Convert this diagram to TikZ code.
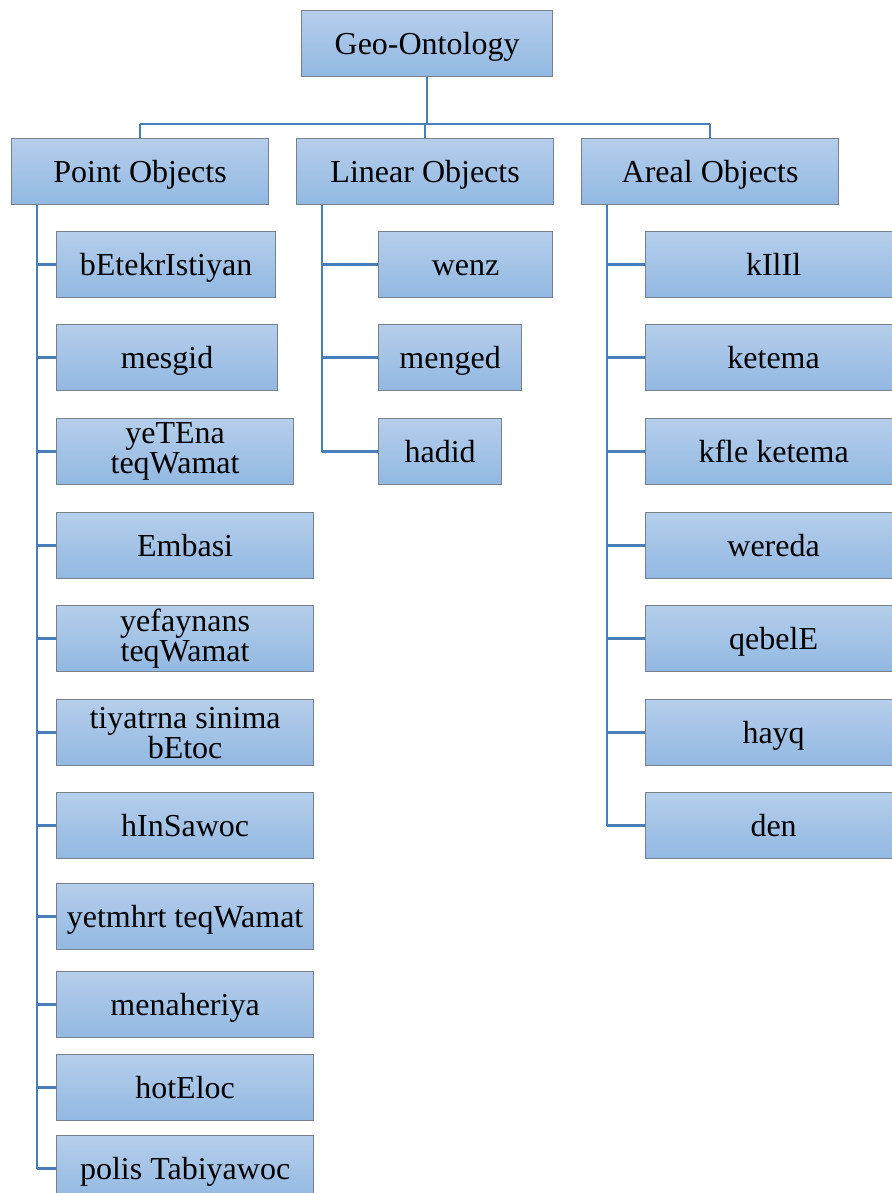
\documentclass[tikz,border=0pt]{standalone}
\usepackage{fontspec}
\setmainfont{Liberation Serif}
\definecolor{boxtop}{RGB}{181,206,235}
\definecolor{boxbot}{RGB}{146,184,226}
\definecolor{boxline}{RGB}{120,128,140}
\definecolor{linkblue}{RGB}{74,126,187}
\tikzset{
  box/.style={rectangle, draw=boxline, line width=1.2pt, top color=boxtop, bottom color=boxbot,
    anchor=north west, inner sep=0pt, align=center, minimum height=66pt,
    text height=26pt, text depth=4pt,
    font=\fontsize{32}{30}\selectfont},
  twoline/.style={text height=, text depth=},
  conn/.style={draw=linkblue, line width=2.6pt},
}
\begin{document}
\begin{tikzpicture}[x=1pt,y=-1pt]
\useasboundingbox (0,0) rectangle (891,1193);
% root and category headers
\node[box, minimum width=251pt] (root) at (301,10) {Geo-Ontology};
\node[box, minimum width=257pt] (pt) at (11,138) {Point Objects};
\node[box, minimum width=257pt] (ln) at (296,138) {Linear Objects};
\node[box, minimum width=257pt] (ar) at (581,138) {Areal Objects};
% bus between root and headers
\coordinate (bus) at (426,124);
\draw[conn] (root.south) -- (root.south |- bus);
\draw[conn] (pt.north |- bus) -- (ar.north |- bus);
\draw[conn] (pt.north |- bus) -- (pt.north);
\draw[conn] (ln.north |- bus) -- (ln.north);
\draw[conn] (ar.north |- bus) -- (ar.north);
% point objects
\coordinate (ps) at (37,204);
\node[box, minimum width=219pt] (p1) at (56,231) {bEtekrIstiyan};
\node[box, minimum width=221pt] (p2) at (56,324) {mesgid};
\node[box, twoline, minimum width=237pt] (p3) at (56,418) {yeTEna\\teqWamat};
\node[box, minimum width=257pt] (p4) at (56,512) {Embasi};
\node[box, twoline, minimum width=257pt] (p5) at (56,605) {yefaynans\\teqWamat};
\node[box, twoline, minimum width=257pt] (p6) at (56,699) {tiyatrna sinima\\bEtoc};
\node[box, minimum width=257pt] (p7) at (56,792) {hInSawoc};
\node[box, minimum width=257pt] (p8) at (56,883) {yetmhrt teqWamat};
\node[box, minimum width=257pt] (p9) at (56,971) {menaheriya};
\node[box, minimum width=257pt] (p10) at (56,1054) {hotEloc};
\node[box, minimum width=257pt] (p11) at (56,1135) {polis Tabiyawoc};
\draw[conn] (pt.south -| ps) -- (p11.west -| ps);
\foreach \n in {p1,p2,p3,p4,p5,p6,p7,p8,p9,p10,p11}
  \draw[conn] (\n.west -| ps) -- (\n.west);
% linear objects
\coordinate (ls) at (322,204);
\node[box, minimum width=174pt] (l1) at (378,231) {wenz};
\node[box, minimum width=143pt] (l2) at (378,324) {menged};
\node[box, minimum width=123pt] (l3) at (378,418) {hadid};
\draw[conn] (ln.south -| ls) -- (l3.west -| ls);
\foreach \n in {l1,l2,l3}
  \draw[conn] (\n.west -| ls) -- (\n.west);
% areal objects
\coordinate (as) at (607,204);
\node[box, minimum width=256pt] (a1) at (645,231) {kIlIl};
\node[box, minimum width=256pt] (a2) at (645,324) {ketema};
\node[box, minimum width=256pt] (a3) at (645,418) {kfle ketema};
\node[box, minimum width=256pt] (a4) at (645,512) {wereda};
\node[box, minimum width=256pt] (a5) at (645,605) {qebelE};
\node[box, minimum width=256pt] (a6) at (645,699) {hayq};
\node[box, minimum width=256pt] (a7) at (645,792) {den};
\draw[conn] (ar.south -| as) -- (a7.west -| as);
\foreach \n in {a1,a2,a3,a4,a5,a6,a7}
  \draw[conn] (\n.west -| as) -- (\n.west);
\end{tikzpicture}
\end{document}
